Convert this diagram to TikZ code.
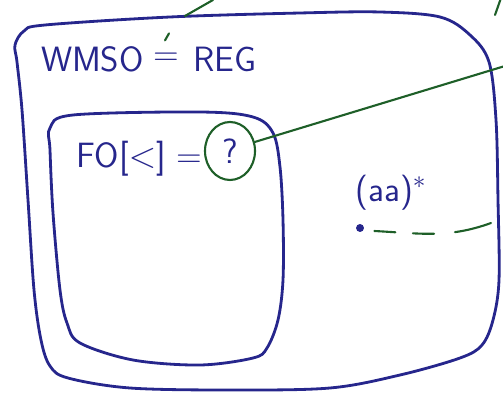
\documentclass[tikz,border=0pt]{standalone}
\usepackage{tikz}
\usetikzlibrary{positioning,shapes.geometric,calc}
\definecolor{ink}{RGB}{38,38,140}
\definecolor{pen}{RGB}{30,95,40}
\tikzset{
  outline/.style={draw=ink, line width=1.6pt, line cap=round, line join=round},
  marker/.style={draw=pen, line width=1.2pt, line cap=round},
  handtext/.style={text=ink, font=\sffamily\fontsize{20}{24}\selectfont, inner sep=0pt},
  gapdash/.style={dash pattern=on 12pt off 10pt on 12pt off 12pt on 22pt off 10pt},
}

\begin{document}
\begin{tikzpicture}[x=0.02cm, y=-0.02cm]
    \useasboundingbox (0,0) rectangle (503,394);

    \draw[outline] plot[smooth cycle, tension=0.55] coordinates {
      (15,45) (24,31) (45,25) (170,17) (300,13) (380,12) (440,17) (470,35)
      (489,62) (496,120) (498,200) (499,280) (493,320) (482,345) (460,358)
      (400,375) (330,388) (230,390) (130,388) (68,378) (50,366) (41,340)
      (34,290) (28,200) (22,110) (17,62)};
    \draw[outline] plot[smooth cycle, tension=0.55] coordinates {
      (50,128) (73,115) (200,112) (253,117) (273,133) (280,167) (283,220)
      (283,280) (278,320) (267,348) (253,358) (200,365) (133,360) (80,343)
      (67,323) (60,290) (53,213) (50,150)};

    \node[handtext] (eq) at (166,59) {=};
    \node[handtext, left=5pt of eq] (wmso) {WMSO};
    \node[handtext, right=8pt of eq] (reg) {REG};

    \node[handtext, anchor=east] (fo) at (203,159) {FO[$<$] =};
    \node[handtext, ellipse, draw=pen, line width=1.2pt, minimum width=1cm,
          minimum height=1.16cm] (qmark) at (230,151) {?};

    \node[handtext] (star) at (391,193) {(aa)$^{*}$};
    \node[circle, fill=ink, inner sep=1.6pt] (dot) at (360,228) {};

    \coordinate (exitR)  at (505,66);
    \coordinate (topA)   at (185,16);
    \coordinate (topB)   at (213,0);
    \coordinate (topC)   at (495,15);
    \coordinate (topD)   at (501,-2);
    \coordinate (dashEnd) at (491,223);

    \draw[marker] (qmark.20) -- (exitR);
    \draw[marker] (topA) -- (topB);
    \draw[marker] (topC) -- (topD);
    \draw[marker] ($(eq.north)+(-1,-12)$) -- ++(4,-7);
    \draw[marker, gapdash] ($(dot.east)+(10,3)$) to[out=-3, in=200] (dashEnd);
\end{tikzpicture}
\end{document}
